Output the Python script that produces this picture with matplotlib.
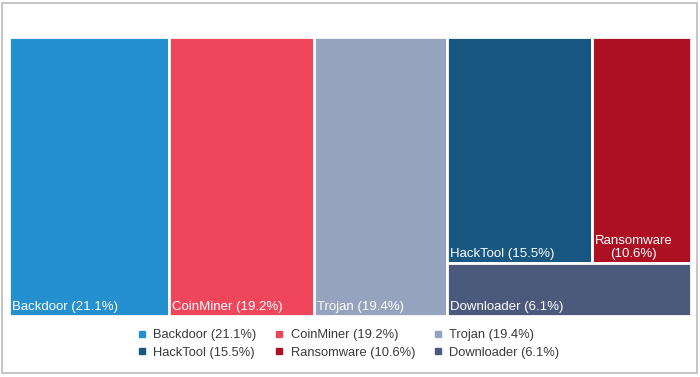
import matplotlib.pyplot as plt
from matplotlib.patches import Rectangle
from matplotlib.lines import Line2D

# malware categories and their share (%)
names = ["Backdoor", "CoinMiner", "Trojan", "HackTool", "Ransomware", "Downloader"]
shares = [21.1, 19.2, 19.4, 15.5, 10.6, 6.1]
# tile sizes as they appear in the picture (Trojan's tile is drawn smaller than its label)
areas = [21.1, 19.2, 17.5, 15.5, 10.6, 6.1]
colors = ["#2490D0", "#EF465B", "#95A3BE", "#175781", "#AD1022", "#4B5A7C"]

plt.rcParams['font.family'] = ['Liberation Sans', 'DejaVu Sans']

fig = plt.figure(figsize=(7, 3.77), dpi=100)
# thin grey frame around the whole picture
fig.patches.append(Rectangle((2 / 700, 4 / 377), 695 / 700, 370 / 377,
                             transform=fig.transFigure, fill=False,
                             edgecolor="#BBBBBB", lw=1.2))

ax = fig.add_axes([9 / 700, 1 - 316 / 377, 682 / 700, 279 / 377])
ax.set_xlim(0, 1)
ax.set_ylim(0, 1)
ax.axis("off")

total = sum(areas)
# layout: first three as full-height columns, last three share the right column
rects = []
x = 0
for v in areas[:3]:
    w = v / total
    rects.append((x, 0, w, 1))
    x += w
wr = 1 - x
rest = sum(areas[3:])
hd = areas[5] / rest
top = areas[3] + areas[4]
wh = wr * areas[3] / top
rects.append((x, hd, wh, 1 - hd))
rects.append((x + wh, hd, wr - wh, 1 - hd))
rects.append((x, 0, wr, hd))

for (rx, ry, rw, rh), n, v, c in zip(rects, names, shares, colors):
    ax.add_patch(Rectangle((rx, ry), rw, rh, facecolor=c, edgecolor="white", lw=2))
    if n == "Ransomware":
        ax.text(rx + 0.0045, ry + 0.012, f"{n}\n({v}%)", color="white",
                fontsize=9.5, ha="left", va="bottom", multialignment="center",
                linespacing=1.05)
    else:
        ax.text(rx + 0.0045, ry + 0.012, f"{n} ({v}%)", color="white",
                fontsize=9.5, ha="left", va="bottom")

# legend, reordered so rows read left to right
order = [0, 3, 1, 4, 2, 5]
handles = [Line2D([], [], marker="s", ls="none", markersize=5,
                  color=colors[i]) for i in order]
labels = [f"{names[i]} ({shares[i]}%)" for i in order]
fig.legend(handles, labels, ncol=3, loc="center", bbox_to_anchor=(0.497, 1 - 344 / 377),
           frameon=False, fontsize=9.3, handlelength=0.8, handletextpad=0.5,
           columnspacing=1.35, labelspacing=0.45, labelcolor="#3a3a3a")

fig.savefig("out.png", dpi=100)
